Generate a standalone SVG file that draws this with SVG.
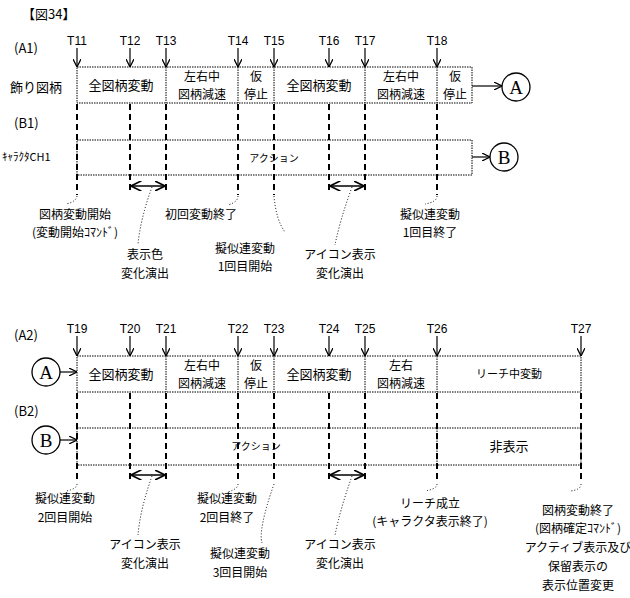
<svg xmlns="http://www.w3.org/2000/svg" width="630" height="598" viewBox="0 0 630 598">
<defs>
<style>
text{font-family:"Noto Sans CJK JP","Liberation Serif",serif;fill:#000}
.s{font-size:12px;text-anchor:middle}
.b{font-size:13px;text-anchor:middle}
.b2{font-size:12px;text-anchor:middle}
.t{font-size:12px;text-anchor:middle;font-family:"Liberation Sans","Noto Sans CJK JP",sans-serif}
.box{fill:none;stroke:#000;stroke-width:1;stroke-dasharray:1.5 1}
.dv{stroke:#000;stroke-width:2;stroke-dasharray:6 4}
.dl{fill:none;stroke:#000;stroke-width:1;stroke-dasharray:1 2}
.ar{stroke:#000;stroke-width:1.2;marker-end:url(#ah)}
.da{stroke:#000;stroke-width:1.5;marker-start:url(#ah2);marker-end:url(#ah)}
.c{fill:#fff;stroke:#000;stroke-width:1.3}
</style>
<marker id="ah" viewBox="0 0 10 10" refX="10" refY="5" markerWidth="7" markerHeight="7" orient="auto"><path d="M0,0L10,5L0,10" fill="none" stroke="#000" stroke-width="1.5"/></marker>
<marker id="ah2" viewBox="0 0 10 10" refX="0" refY="5" markerWidth="7" markerHeight="7" orient="auto"><path d="M10,0L0,5L10,10" fill="none" stroke="#000" stroke-width="1.5"/></marker>
</defs>
<text x="22" y="19" style="font-size:13px">【図34】</text>

<g id="section1">
<text x="14" y="53" style="font-size:13px">(A1)</text>
<text x="10" y="92" style="font-size:13px">飾り図柄</text>
<text x="14" y="128" style="font-size:13px">(B1)</text>
<text x="2" y="161" style="font-size:11px">ｷｬﾗｸﾀCH1</text>
<g id="timeA1">
<text class="t" x="77" y="45">T11</text><text class="t" x="130" y="45">T12</text><text class="t" x="166" y="45">T13</text><text class="t" x="238" y="45">T14</text><text class="t" x="274" y="45">T15</text><text class="t" x="329" y="45">T16</text><text class="t" x="365" y="45">T17</text><text class="t" x="437" y="45">T18</text>
</g>
<g id="rowA1">
<rect class="box" x="77" y="67" width="395" height="36"/>
<line class="box" x1="166" y1="67" x2="166" y2="103"/><line class="box" x1="238" y1="67" x2="238" y2="103"/><line class="box" x1="274" y1="67" x2="274" y2="103"/><line class="box" x1="365" y1="67" x2="365" y2="103"/><line class="box" x1="437" y1="67" x2="437" y2="103"/>
<text class="b" x="121" y="90">全図柄変動</text>
<text class="b2" x="202" y="81">左右中</text><text class="b2" x="202" y="99">図柄減速</text>
<text class="b2" x="256" y="81">仮</text><text class="b2" x="256" y="99">停止</text>
<text class="b" x="319" y="90">全図柄変動</text>
<text class="b2" x="401" y="81">左右中</text><text class="b2" x="401" y="99">図柄減速</text>
<text class="b2" x="455" y="81">仮</text><text class="b2" x="455" y="99">停止</text>
</g>
<g id="rowB1">
<rect class="box" x="77" y="140" width="395" height="35"/>
<text x="274" y="162" style="font-size:10px;text-anchor:middle">アクション</text>
</g>
<g id="circA1"><circle class="c" cx="516" cy="87" r="14"/><text x="516" y="94" style="font-size:19px;text-anchor:middle;font-family:'Liberation Serif',serif">A</text></g>
<g id="circB1"><circle class="c" cx="504" cy="157" r="14"/><text x="504" y="164" style="font-size:19px;text-anchor:middle;font-family:'Liberation Serif',serif">B</text></g>
</g>

<g id="section2">
<text x="14" y="340" style="font-size:13px">(A2)</text>
<text x="14" y="416" style="font-size:13px">(B2)</text>
<g id="timeA2">
<text class="t" x="77" y="333">T19</text><text class="t" x="130" y="333">T20</text><text class="t" x="166" y="333">T21</text><text class="t" x="238" y="333">T22</text><text class="t" x="274" y="333">T23</text><text class="t" x="329" y="333">T24</text><text class="t" x="365" y="333">T25</text><text class="t" x="437" y="333">T26</text><text class="t" x="581" y="333">T27</text>
</g>
<g id="rowA2">
<rect class="box" x="77" y="356" width="504" height="36"/>
<line class="box" x1="166" y1="356" x2="166" y2="392"/><line class="box" x1="238" y1="356" x2="238" y2="392"/><line class="box" x1="274" y1="356" x2="274" y2="392"/><line class="box" x1="365" y1="356" x2="365" y2="392"/><line class="box" x1="437" y1="356" x2="437" y2="392"/>
<text class="b" x="121" y="379">全図柄変動</text>
<text class="b2" x="202" y="370">左右中</text><text class="b2" x="202" y="388">図柄減速</text>
<text class="b2" x="256" y="370">仮</text><text class="b2" x="256" y="388">停止</text>
<text class="b" x="319" y="379">全図柄変動</text>
<text class="b2" x="401" y="370">左右</text><text class="b2" x="401" y="388">図柄減速</text>
<text x="509" y="378" style="font-size:11px;text-anchor:middle">リーチ中変動</text>
</g>
<g id="rowB2">
<rect class="box" x="77" y="428" width="504" height="37"/>
<line class="box" x1="437" y1="428" x2="437" y2="465"/>
<text x="256" y="450" style="font-size:10px;text-anchor:middle">アクション</text>
<text class="b" x="509" y="451">非表示</text>
</g>
<g id="circA2"><circle class="c" cx="46" cy="372" r="14"/><text x="46" y="379" style="font-size:19px;text-anchor:middle;font-family:'Liberation Serif',serif">A</text></g>
<g id="circB2"><circle class="c" cx="46" cy="440" r="14"/><text x="46" y="447" style="font-size:19px;text-anchor:middle;font-family:'Liberation Serif',serif">B</text></g>
</g>

<g id="connectors">
<line class="ar" x1="77" y1="48" x2="77" y2="67"/><line class="ar" x1="130" y1="48" x2="130" y2="67"/><line class="ar" x1="166" y1="48" x2="166" y2="67"/><line class="ar" x1="238" y1="48" x2="238" y2="67"/><line class="ar" x1="274" y1="48" x2="274" y2="67"/><line class="ar" x1="329" y1="48" x2="329" y2="67"/><line class="ar" x1="365" y1="48" x2="365" y2="67"/><line class="ar" x1="437" y1="48" x2="437" y2="67"/>
<line class="ar" x1="77" y1="336" x2="77" y2="356"/><line class="ar" x1="130" y1="336" x2="130" y2="356"/><line class="ar" x1="166" y1="336" x2="166" y2="356"/><line class="ar" x1="238" y1="336" x2="238" y2="356"/><line class="ar" x1="274" y1="336" x2="274" y2="356"/><line class="ar" x1="329" y1="336" x2="329" y2="356"/><line class="ar" x1="365" y1="336" x2="365" y2="356"/><line class="ar" x1="437" y1="336" x2="437" y2="356"/><line class="ar" x1="581" y1="336" x2="581" y2="356"/>
<line class="ar" x1="472" y1="86" x2="502" y2="86"/><line class="ar" x1="472" y1="157" x2="490" y2="157"/>
<line class="ar" x1="60" y1="372" x2="77" y2="372"/><line class="ar" x1="60" y1="440" x2="77" y2="440"/>
<g>
<line class="dv" x1="77" y1="104" x2="77" y2="195"/><line class="dv" x1="130" y1="104" x2="130" y2="192"/><line class="dv" x1="166" y1="104" x2="166" y2="192"/><line class="dv" x1="238" y1="104" x2="238" y2="195"/><line class="dv" x1="274" y1="104" x2="274" y2="195"/><line class="dv" x1="329" y1="104" x2="329" y2="192"/><line class="dv" x1="365" y1="104" x2="365" y2="192"/><line class="dv" x1="437" y1="104" x2="437" y2="195"/>
<line class="dv" x1="77" y1="393" x2="77" y2="483"/><line class="dv" x1="130" y1="393" x2="130" y2="480"/><line class="dv" x1="166" y1="393" x2="166" y2="480"/><line class="dv" x1="238" y1="393" x2="238" y2="483"/><line class="dv" x1="274" y1="393" x2="274" y2="483"/><line class="dv" x1="329" y1="393" x2="329" y2="480"/><line class="dv" x1="365" y1="393" x2="365" y2="480"/><line class="dv" x1="437" y1="393" x2="437" y2="483"/><line class="dv" x1="581" y1="393" x2="581" y2="483"/>
</g>
<line class="da" x1="131" y1="186" x2="165" y2="186"/><line class="da" x1="330" y1="186" x2="364" y2="186"/>
<line class="da" x1="131" y1="475" x2="165" y2="475"/><line class="da" x1="330" y1="475" x2="364" y2="475"/>
<path class="dl" d="M77,196 Q76,202 66,204"/>
<path class="dl" d="M152,187 Q140,220 138,245"/>
<path class="dl" d="M238,196 Q238,202 228,205"/>
<path class="dl" d="M274,196 Q276,220 285,232"/>
<path class="dl" d="M352,187 Q340,220 335,245"/>
<path class="dl" d="M437,196 Q437,202 425,204"/>
<path class="dl" d="M77,484 Q77,489 66,491"/>
<path class="dl" d="M152,476 Q140,510 138,535"/>
<path class="dl" d="M238,484 Q238,489 228,492"/>
<path class="dl" d="M274,484 Q258,530 262,543"/>
<path class="dl" d="M352,476 Q340,510 335,535"/>
<path class="dl" d="M437,484 Q437,489 425,491"/>
<path class="dl" d="M581,484 Q581,490 570,491"/>
</g>

<g id="labels">
<text class="s" x="75" y="219">図柄変動開始</text><text class="s" x="75" y="237">(変動開始ｺﾏﾝﾄﾞ)</text>
<text class="s" x="145" y="259">表示色</text><text class="s" x="145" y="278">変化演出</text>
<text class="s" x="201" y="219">初回変動終了</text>
<text class="s" x="245" y="253">擬似連変動</text><text class="s" x="245" y="271">1回目開始</text>
<text class="s" x="340" y="259">アイコン表示</text><text class="s" x="340" y="278">変化演出</text>
<text class="s" x="430" y="219">擬似連変動</text><text class="s" x="430" y="237">1回目終了</text>
<text class="s" x="65" y="503">擬似連変動</text><text class="s" x="65" y="522">2回目開始</text>
<text class="s" x="145" y="549">アイコン表示</text><text class="s" x="145" y="568">変化演出</text>
<text class="s" x="227" y="503">擬似連変動</text><text class="s" x="227" y="522">2回目終了</text>
<text class="s" x="240" y="558">擬似連変動</text><text class="s" x="240" y="577">3回目開始</text>
<text class="s" x="340" y="549">アイコン表示</text><text class="s" x="340" y="568">変化演出</text>
<text class="s" x="430" y="508">リーチ成立</text><text class="s" x="430" y="526">(キャラクタ表示終了)</text>
<text class="s" x="578" y="515">図柄変動終了</text><text class="s" x="578" y="533">(図柄確定ｺﾏﾝﾄﾞ)</text><text class="s" x="578" y="552">アクティブ表示及び</text><text class="s" x="578" y="571">保留表示の</text><text class="s" x="578" y="590">表示位置変更</text>
</g>
</svg>
